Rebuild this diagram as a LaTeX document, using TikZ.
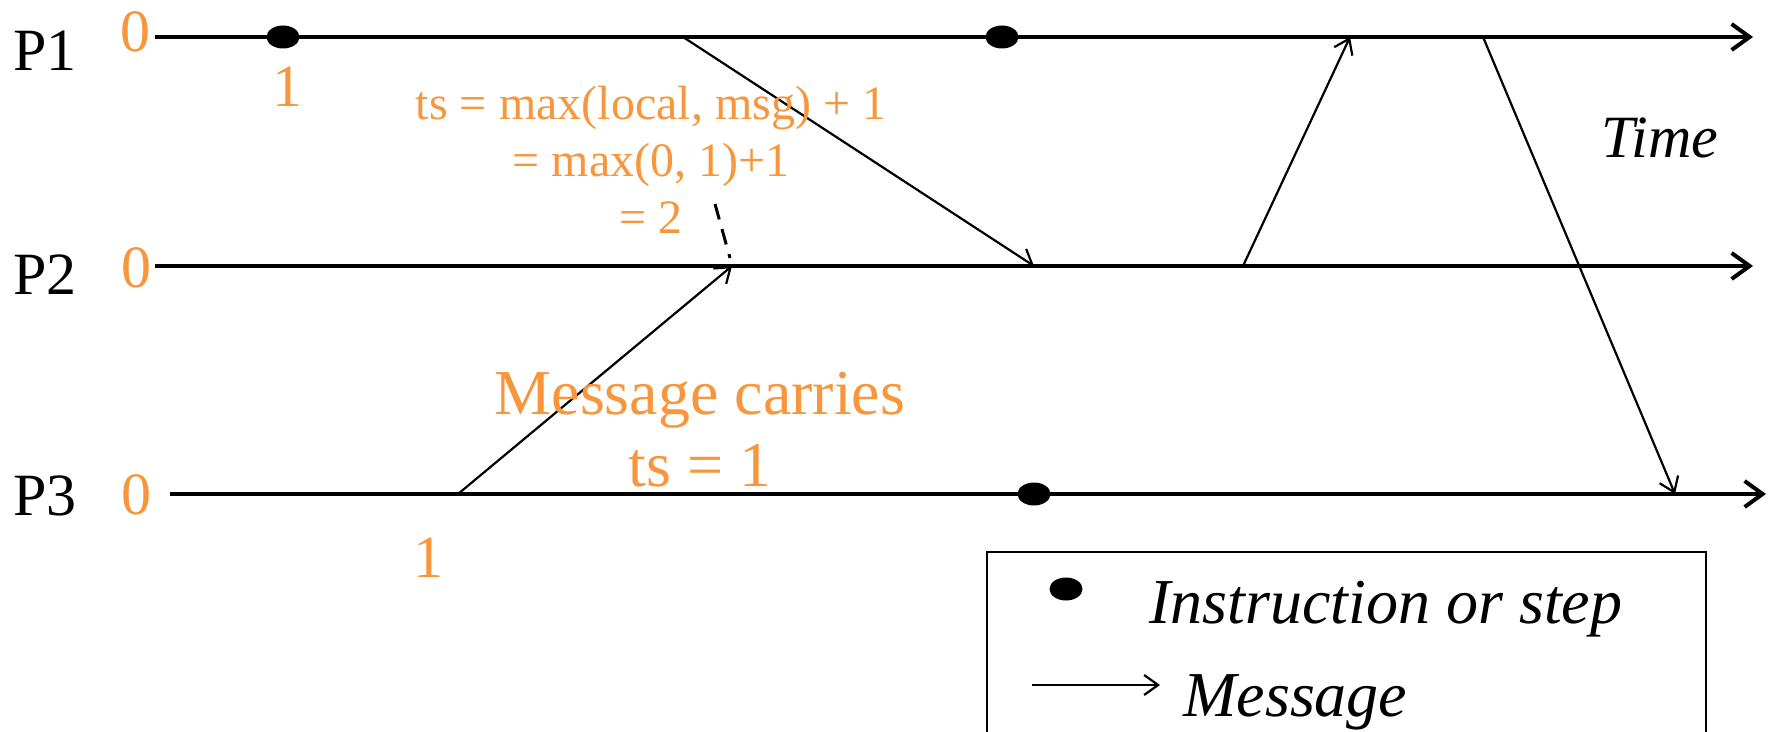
\documentclass[tikz,border=0pt]{standalone}
\usepackage{fontspec}
\setmainfont{Liberation Serif}
\usetikzlibrary{arrows.meta,shapes.geometric}
\definecolor{orng}{RGB}{247,150,60}
\begin{document}
\begin{tikzpicture}[x=0.5pt,y=-0.5pt,
  timeline/.style={line width=2pt,-{Straight Barb[length=9pt,width=13pt,line width=2pt]}},
  msgarrow/.style={line width=1.1pt,-{Straight Barb[length=7pt,width=10pt,line width=1.1pt]}},
  stepdot/.style={ellipse,fill=black,inner sep=0pt,minimum width=16.5pt,minimum height=11.5pt},
  proclabel/.style={font=\fontsize{30}{36}\selectfont,inner sep=0pt},
  clocklabel/.style={font=\fontsize{30}{36}\selectfont,text=orng,inner sep=0pt},
  note/.style={text=orng,align=center,inner sep=0pt},
  legendtext/.style={font=\fontsize{32}{38}\selectfont\itshape,inner sep=0pt,anchor=west}]
\useasboundingbox (0,0) rectangle (1775,732);
\clip (0,0) rectangle (1775,732);

% timelines
\coordinate (s1) at (155,37);  \coordinate (e1) at (1753,37);
\coordinate (s2) at (155,266); \coordinate (e2) at (1753,266);
\coordinate (s3) at (170,494); \coordinate (e3) at (1766,494);
\draw[timeline] (s1) -- (e1);
\draw[timeline] (s2) -- (e2);
\draw[timeline] (s3) -- (e3);

% process labels
\node[proclabel] (p1) at (45,51) {P1};
\node[proclabel] (p2) at (45,275) {P2};
\node[proclabel] (p3) at (45,496) {P3};
\node[clocklabel] (z1) at (135,32) {0};
\node[clocklabel] (z2) at (136,268) {0};
\node[clocklabel] (z3) at (136,495) {0};

% steps
\node[stepdot] (d1a) at (283,37) {};
\node[stepdot] (d1b) at (1002,37) {};
\node[stepdot] (d3a) at (1034,494) {};
\node[clocklabel] (o1) at (287,87) {1};
\node[clocklabel] (o3) at (428,558) {1};

% messages
\coordinate (a1) at (683,37);   \coordinate (b1) at (1034,266);
\coordinate (a2) at (458,494);  \coordinate (b2) at (732,266);
\coordinate (a3) at (1243,266); \coordinate (b3) at (1350,37);
\coordinate (a4) at (1483,37);  \coordinate (b4) at (1675,494);
\draw[msgarrow] (a1) -- (b1);
\draw[msgarrow] (a2) -- (b2);
\draw[msgarrow] (a3) -- (b3);
\draw[msgarrow] (a4) -- (b4);

% annotations
\node[note,font=\fontsize{24}{28.5}\selectfont] (rule) at (651,160)
  {ts = max(local, msg) + 1\\= max(0, 1)+1\\= 2};
\coordinate (q1) at (715,204); \coordinate (q2) at (730,258);
\draw[line width=1.5pt,dash pattern=on 8pt off 5pt] (q1) -- (q2);
\node[note,font=\fontsize{32}{36}\selectfont] (carry) at (700,430)
  {Message carries\\ts = 1};
\node[font=\fontsize{30}{36}\selectfont\itshape,inner sep=0pt] (time) at (1660,138) {Time};

% legend
\draw[line width=1pt] (987,800) -- (987,552) -- (1706,552) -- (1706,800);
\node[stepdot] (ld) at (1066,589) {};
\node[legendtext] (lt1) at (1149,609) {Instruction or step};
\coordinate (la) at (1032,685); \coordinate (lb) at (1160,685);
\draw[msgarrow] (la) -- (lb);
\node[legendtext] (lt2) at (1183,702) {Message};
\end{tikzpicture}
\end{document}
